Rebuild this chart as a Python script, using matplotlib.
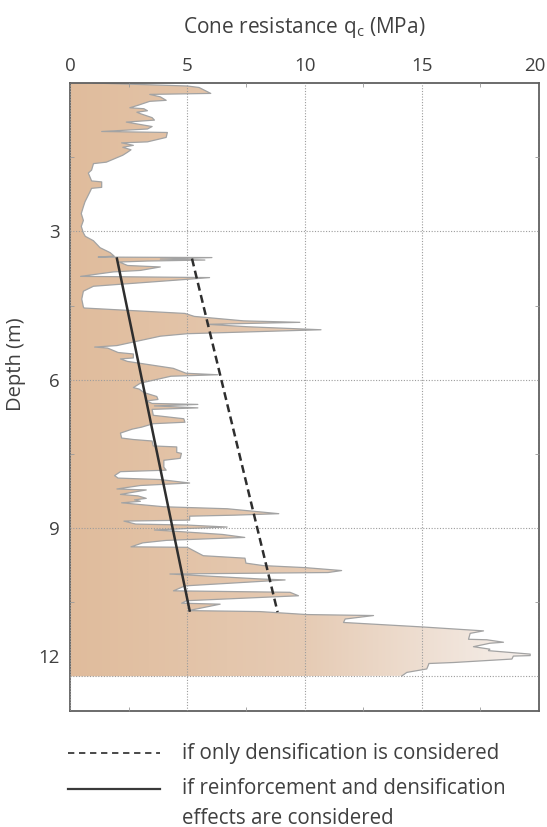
import numpy as np
import matplotlib
matplotlib.use("Agg")
import matplotlib.pyplot as plt
from matplotlib.colors import LinearSegmentedColormap

plt.rcParams['font.family'] = ['Open Sans', 'DejaVu Sans']
plt.rcParams['mathtext.default'] = 'regular'

# CPT profile: depth (m) and cone resistance qc (MPa)
depth = [0.00, 0.06, 0.09, 0.21, 0.23, 0.28, 0.35, 0.37, 0.45, 0.50, 0.52, 0.56, 0.59, 0.62,
         0.70, 0.75, 0.79, 0.83, 0.88, 0.93, 0.98, 1.00, 1.10, 1.19, 1.21, 1.26, 1.30, 1.35,
         1.40, 1.46, 1.60, 1.63, 1.76, 1.82, 1.98, 2.00, 2.11, 2.13, 2.20, 2.40, 2.50, 2.64,
         2.78, 2.90, 3.03, 3.10, 3.19, 3.33, 3.43, 3.50, 3.52, 3.53, 3.56, 3.58, 3.60, 3.62,
         3.69, 3.72, 3.79, 3.82, 3.91, 3.935, 3.97, 4.11, 4.21, 4.37, 4.53, 4.55, 4.66, 4.72,
         4.78, 4.81, 4.84, 4.88, 4.93, 4.99, 5.07, 5.12, 5.31, 5.34, 5.36, 5.45, 5.48, 5.56,
         5.58, 5.63, 5.72, 5.77, 5.87, 5.90, 5.93, 6.07, 6.16, 6.19, 6.26, 6.34, 6.40, 6.43,
         6.48, 6.50, 6.53, 6.57, 6.60, 6.72, 6.79, 6.86, 6.89, 6.96, 7.00, 7.08, 7.18, 7.21,
         7.24, 7.34, 7.36, 7.47, 7.49, 7.59, 7.63, 7.77, 7.83, 7.86, 7.94, 7.99, 8.02, 8.09,
         8.14, 8.21, 8.23, 8.32, 8.35, 8.40, 8.43, 8.46, 8.49, 8.57, 8.61, 8.71, 8.74, 8.76,
         8.84, 8.86, 8.92, 8.94, 8.98, 9.01, 9.04, 9.06, 9.13, 9.19, 9.25, 9.30, 9.38, 9.39,
         9.56, 9.61, 9.71, 9.76, 9.80, 9.86, 9.90, 9.93, 10.03, 10.05, 10.17, 10.27, 10.30,
         10.37, 10.47, 10.52, 10.54, 10.67, 10.69, 10.75, 10.77, 10.84, 10.91, 11.00, 11.08,
         11.13, 11.25, 11.26, 11.31, 11.33, 11.40, 11.45, 11.48, 11.55, 11.58, 11.59, 11.65,
         11.72, 11.74, 11.77, 11.85, 11.92, 11.99, 12.00]
qc = [1.0, 5.0, 5.5, 6.0, 3.4, 3.85, 4.1, 3.4, 2.9, 2.55, 3.15, 3.3, 2.85, 3.0,
      3.5, 3.6, 2.4, 2.9, 3.5, 3.3, 1.35, 4.15, 4.1, 3.3, 2.2, 2.7, 2.25, 2.6,
      2.45, 2.25, 1.55, 1.0, 0.92, 0.78, 0.92, 1.35, 1.35, 0.92, 0.85, 0.64, 0.57, 0.48,
      0.57, 0.48, 0.57, 0.65, 1.0, 1.28, 1.71, 1.88, 1.2, 6.05, 3.85, 5.75, 3.3, 2.1,
      2.45, 3.85, 3.0, 1.85, 0.45, 5.95, 5.0, 1.0, 0.57, 0.5, 0.57, 0.6, 4.9, 5.3,
      6.7, 7.4, 9.8, 5.85, 7.6, 10.7, 5.0, 3.85, 2.0, 1.05, 1.6, 2.05, 2.7, 2.7,
      2.15, 2.45, 3.7, 4.4, 4.95, 6.3, 4.3, 3.0, 2.7, 2.95, 3.15, 3.7, 3.75, 3.25,
      3.5, 5.45, 3.6, 5.45, 3.5, 3.55, 4.85, 4.9, 3.55, 3.05, 2.65, 2.15, 2.2, 2.7,
      3.5, 3.55, 4.55, 4.55, 4.75, 4.7, 4.0, 4.0, 4.1, 2.15, 1.9, 2.05, 3.85, 5.1,
      3.0, 2.0, 3.25, 2.15, 2.9, 3.25, 2.75, 3.0, 2.2, 4.0, 6.7, 8.9, 7.0, 5.1,
      5.1, 2.3, 2.8, 5.0, 6.7, 5.0, 3.6, 4.3, 6.5, 7.45, 4.1, 3.1, 2.6, 5.0,
      5.68, 7.46, 7.5, 8.24, 10.0, 11.58, 11.0, 4.26, 8.1, 9.17, 4.9, 4.41, 9.38,
      9.74, 4.97, 4.76, 6.4, 5.05, 8.1, 10.09, 12.94, 11.73, 11.66, 15.0, 17.63,
      17.06, 16.99, 17.77, 18.48, 17.9, 17.2, 17.9, 17.84, 19.62, 19.62, 18.9, 18.84,
      16.35, 15.3, 15.28, 15.21, 14.36, 14.15, 0.0]

# design lines (start / end)
reinf_q = [2.0, 5.1]
reinf_d = [3.55, 10.67]
dens_q = [5.2, 8.85]
dens_d = [3.55, 10.7]

xticks = [0, 5, 10, 15, 20]
xtick_labels = ['0', '5', '10', '15', '20']
yticks = [3, 6, 9, 12]
ytick_labels = ['3', '6', '9', '12']

txt = '#404040'
fs = 15
tfs = 13.5
fig = plt.figure(figsize=(5.47, 8.27), dpi=100)
ax = fig.add_axes([0.128, 0.1403, 0.8576, 0.7593])

# gradient-filled profile
poly_q = [0.0] + qc + [0.0]
poly_d = [0.0] + depth + [12.0]
poly = ax.fill(poly_q, poly_d, facecolor='none', edgecolor='none')[0]
cmap = LinearSegmentedColormap.from_list('tan', ['#e0bc9c', '#e6cbb4', '#f6f1ee'])
grad = np.linspace(0, 1, 256).reshape(1, -1)
im = ax.imshow(grad, extent=[0, 20, 12.7, 0], aspect='auto', cmap=cmap, zorder=1)
im.set_clip_path(poly)
ax.plot(qc[:-1], depth[:-1], color='#a3a3a3', lw=0.9, zorder=2)

ax.plot(dens_q, dens_d, color='#2e2e2e', lw=1.8, ls=(0, (3.2, 1.8)), zorder=4)
ax.plot(reinf_q, reinf_d, color='#2e2e2e', lw=1.8, zorder=4)

ax.set_xlim(0, 20)
ax.set_ylim(12.7, 0)
ax.xaxis.tick_top()
ax.set_xticks(xticks)
ax.set_xticklabels(xtick_labels[:-1] + [''])
ax.set_yticks(yticks)
ax.set_yticklabels(ytick_labels[:-1] + [''])
ax.set_xticks(np.arange(2.5, 20, 5), minor=True)
ax.set_yticks(np.arange(1.5, 12.7, 3), minor=True)
ax.tick_params(which='major', length=0, labelsize=tfs, labelcolor=txt)
ax.tick_params(axis='x', which='major', pad=5.5)
ax.tick_params(axis='y', which='major', pad=7.5)
ax.tick_params(which='minor', length=3, direction='in', color='#999999',
               top=True, bottom=True, left=True, right=True)
# the last labels sit slightly off their ticks in the original
ax.annotate(ytick_labels[-1], xy=(0, yticks[-1]), xytext=(-7.5, 13), textcoords='offset points',
            ha='right', va='center', fontsize=tfs, color=txt)
ax.annotate(xtick_labels[-1], xy=(xticks[-1], 0), xytext=(4.5, 5.5), textcoords='offset points',
            ha='right', va='bottom', fontsize=tfs, color=txt)
ax.grid(True, which='major', color='#9c9c9c', ls=(0, (1, 1.5)), lw=0.8, zorder=3)
ax.set_axisbelow(False)
for s in ax.spines.values():
    s.set_color('#606060')
    s.set_linewidth(1.3)

fig.text(0.557, 1 - 33.5 / 827, r'Cone resistance q$_\mathregular{c}$ (MPa)', ha='center',
         va='baseline', fontsize=fs, color=txt)
fig.text(0.03, 0.56, 'Depth (m)', rotation=90, ha='center', va='center', fontsize=14.5, color=txt)

# legend
fig.lines.append(plt.Line2D([68 / 547, 160 / 547], [1 - 753 / 827] * 2, transform=fig.transFigure,
                            color='#3a3a3a', lw=1.3, ls=(0, (3.5, 2.6))))
fig.lines.append(plt.Line2D([68 / 547, 160 / 547], [1 - 789 / 827] * 2, transform=fig.transFigure,
                            color='#3a3a3a', lw=1.6))
fig.text(182 / 547, 1 - 753 / 827, 'if only densification is considered', va='center',
         fontsize=14.8, color=txt)
fig.text(182 / 547, 1 - 789 / 827, 'if reinforcement and densification', va='center',
         fontsize=14.8, color=txt)
fig.text(182 / 547, 1 - 818 / 827, 'effects are considered', va='center', fontsize=14.8, color=txt)

fig.savefig('out.png', dpi=100)
